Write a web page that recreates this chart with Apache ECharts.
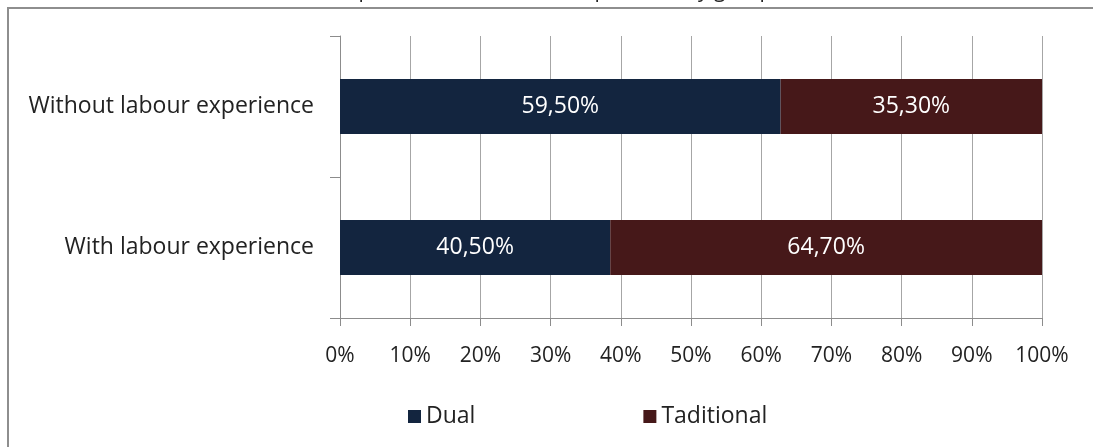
<!DOCTYPE html>
<html>
<head>
<meta charset="utf-8">
<script src="https://cdn.jsdelivr.net/npm/echarts@6/dist/echarts.min.js"></script>
<style>
  html, body { margin: 0; padding: 0; background: #ffffff; }
  #chart { width: 1093px; height: 447px; }
</style>
</head>
<body>
<div id="chart"></div>
<script>
// Groups, bottom to top on the category axis
const categories = ['With labour experience', 'Without labour experience'];
// Reported percentages per group
const dualValues = [40.5, 59.5];
const traditionalValues = [64.7, 35.3];
const seriesNames = ['Dual', 'Taditional'];
const xTicks = [0, 10, 20, 30, 40, 50, 60, 70, 80, 90, 100];
const titleText = 'Graph 5. Previous labour experience by group';

// 100% stacked: each bar is the value's share of its group's total
const totals = categories.map((_, i) => dualValues[i] + traditionalValues[i]);
const share = (arr) => arr.map((v, i) => v / totals[i] * 100);
const fmt = (v) => v.toFixed(2).replace('.', ',') + '%';

const FONT = '"Open Sans", Lato, sans-serif';
const chart = echarts.init(document.getElementById('chart'), null, { renderer: 'canvas' });

chart.setOption({
  backgroundColor: '#ffffff',
  animation: false,
  title: {
    text: titleText,
    left: 318,
    top: -24,
    textStyle: { fontFamily: FONT, fontSize: 21, fontWeight: 'normal', color: '#222' }
  },
  graphic: [{
    type: 'rect',
    shape: { x: 8, y: 8, width: 1200, height: 600 },
    style: { fill: 'none', stroke: '#8e8e8e', lineWidth: 2 },
    silent: true, z: 0
  }],
  grid: { left: 340, right: 51, top: 36, bottom: 129, containLabel: false },
  legend: {
    data: seriesNames,
    left: 403,
    top: 400,
    itemGap: 168,
    itemWidth: 13,
    itemHeight: 13,
    icon: 'rect',
    textStyle: { fontFamily: FONT, fontSize: 23, color: '#222' }
  },
  xAxis: {
    type: 'value',
    min: 0,
    max: 100,
    interval: 10,
    axisLine: { show: true, lineStyle: { color: '#8c8c8c', width: 1 } },
    axisTick: { show: true, length: 8, lineStyle: { color: '#8c8c8c' } },
    splitLine: { show: true, lineStyle: { color: '#a6a6a6', width: 1 } },
    axisLabel: {
      formatter: (v) => xTicks.includes(v) ? v + '%' : '',
      fontFamily: FONT, fontSize: 21, color: '#222', margin: 28
    }
  },
  yAxis: {
    type: 'category',
    data: categories,
    axisLine: { show: true, lineStyle: { color: '#8c8c8c', width: 1 } },
    axisTick: { show: true, length: 10, lineStyle: { color: '#8c8c8c' } },
    axisLabel: { fontFamily: FONT, fontSize: 23, color: '#222', margin: 26 }
  },
  series: [
    {
      name: seriesNames[0],
      type: 'bar',
      stack: 'total',
      barWidth: '39%',
      data: share(dualValues),
      itemStyle: { color: '#13253f' },
      label: {
        show: true, position: 'inside', color: '#ffffff',
        fontFamily: FONT, fontSize: 23,
        formatter: (p) => fmt(dualValues[p.dataIndex])
      }
    },
    {
      name: seriesNames[1],
      type: 'bar',
      stack: 'total',
      barWidth: '39%',
      data: share(traditionalValues),
      itemStyle: { color: '#461819' },
      label: {
        show: true, position: 'inside', color: '#ffffff',
        fontFamily: FONT, fontSize: 23,
        formatter: (p) => fmt(traditionalValues[p.dataIndex])
      }
    }
  ]
});
</script>
</body>
</html>
